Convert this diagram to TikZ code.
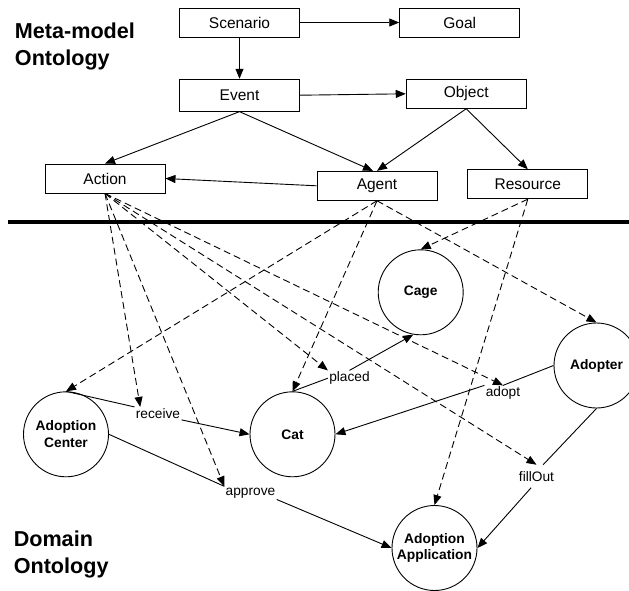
\documentclass[tikz,border=0pt]{standalone}
\usepackage{fontspec}
\setmainfont{Liberation Sans}
\usetikzlibrary{arrows.meta}

\begin{document}
\begin{tikzpicture}[x=1pt,y=-1pt,line width=0.9pt,
  >={Triangle[length=10pt,width=8pt]},
  metabox/.style={draw,rectangle,minimum width=120pt,minimum height=29pt,inner sep=0pt,
    font=\fontsize{15.5}{18}\selectfont},
  domnode/.style={draw,circle,minimum size=85pt,inner sep=0pt,align=center,
    font=\bfseries\fontsize{13.8}{16.7}\selectfont},
  rellabel/.style={inner sep=1pt,font=\fontsize{13.7}{16}\selectfont},
  instof/.style={->,dash pattern=on 7pt off 4pt},
  levelname/.style={anchor=north west,inner sep=0pt,align=left,
    font=\bfseries\fontsize{21.6}{27}\selectfont}]
  \useasboundingbox (0,0) rectangle (629,590);

  % meta-model level
  \node[metabox] (Scenario) at (239.5,22.5) {Scenario};
  \node[metabox] (Goal) at (459.7,22.5) {Goal};
  \node[metabox,minimum height=32pt] (Event) at (239.5,95.2) {Event};
  \node[metabox] (Object) at (466.2,93.8) {Object};
  \node[metabox] (Action) at (105,178.5) {Action};
  \node[metabox] (Agent) at (377,185.8) {Agent};
  \node[metabox] (Resource) at (527.8,184.2) {Resource};

  \draw[->] (Scenario) -- (Goal);
  \draw[->] (Scenario) -- (Event);
  \draw[->] (Event.east) -- (Object.west);
  \draw[->] (Event.south) -- (Action.north);
  \draw[->] (Event.south) -- (Agent.105);
  \draw[->] (Object.south) -- (Agent.north);
  \draw[->] (Object.south) -- (Resource.north);
  \draw[->] (Agent.west) -- (Action.east);

  \draw[line width=3.3pt] (8,222) -- (629,222);

  % domain level
  \node[domnode] (Cage) at (420.7,292.3) {Cage};
  \node[domnode] (Adopter) at (596.5,365.5) {Adopter};
  \node[domnode] (adcenter) at (66,434.3) {Adoption\\Center};
  \node[domnode] (Cat) at (292.5,434.3) {Cat};
  \node[domnode] (adapp) at (434.5,548) {Adoption\\Application};

  \node[rellabel] (receive) at (158,413.4) {receive};
  \node[rellabel] (approve) at (250.5,492.9) {approve};
  \node[rellabel] (placed) at (349.5,378.2) {placed};
  \node[rellabel] (adopt) at (503,393.2) {adopt};
  \node[rellabel,inner ysep=6pt] (fillOut) at (536.5,476.2) {fillOut};

  \draw (adcenter.north) -- (receive.north west);
  \draw[->] (receive.south east) -- (Cat.west);
  \draw (adcenter.east) -- (approve.north west);
  \draw[->] (approve.south east) -- (adapp.west);
  \draw (Cat.north) -- (placed.west);
  \draw[->] (placed.north) -- (Cage.-100);
  \draw (Adopter.west) -- (adopt.north);
  \draw[->] (adopt.north west) -- (Cat.east);
  \draw (Adopter.south) -- (fillOut.60);
  \draw[->] (fillOut.245) -- (adapp.east);

  % instance links
  \foreach \t in {receive.160,approve.north west,placed.north west,adopt.north,fillOut.north}
    \draw[instof] (Action.south) -- (\t);
  \foreach \t in {adcenter.north,Cat.north,Adopter.north}
    \draw[instof] (Agent.south) -- (\t);
  \foreach \t in {Cage.north,adapp.north}
    \draw[instof] (Resource.south) -- (\t);

  \node[levelname] (metatitle) at (14.5,22.2) {Meta-model\\Ontology};
  \node[levelname] (domtitle) at (13.3,530.3) {Domain\\Ontology};
\end{tikzpicture}
\end{document}
